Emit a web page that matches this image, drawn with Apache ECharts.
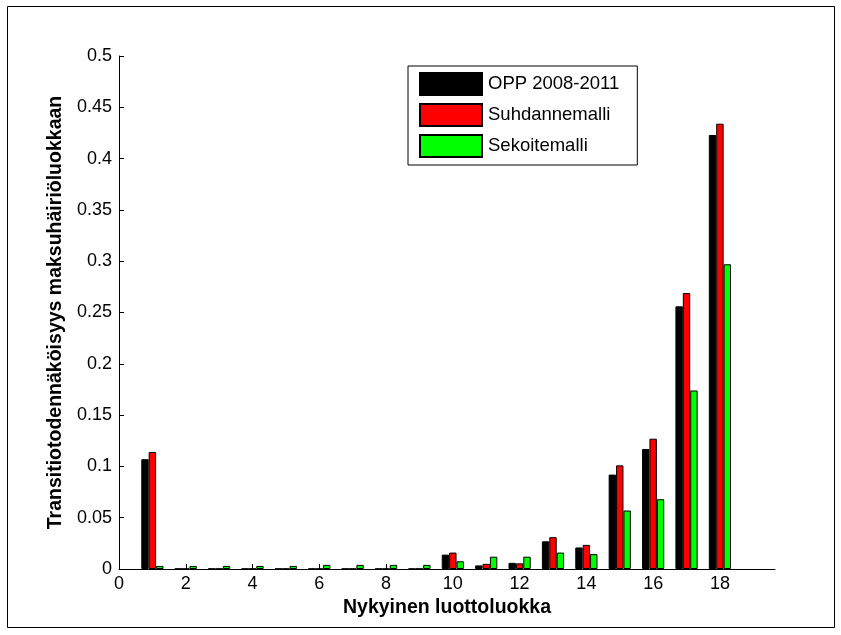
<!DOCTYPE html>
<html>
<head>
<meta charset="utf-8">
<script src="https://cdn.jsdelivr.net/npm/echarts@6/dist/echarts.min.js"></script>
<style>
  html, body { margin: 0; padding: 0; background: #fff; }
  #chart { width: 841px; height: 635px; }
</style>
</head>
<body>
<div id="chart"></div>
<script>
// Credit class (x position of each bar group)
const classes = [1, 2, 3, 4, 5, 6, 7, 8, 9, 10, 11, 12, 13, 14, 15, 16, 17, 18];

// Transition probability to the default class, per model
const opp = [0.107, 0.0003, 0.0003, 0.0003, 0.0003, 0.0003, 0.0003, 0.0003, 0.0003,
             0.014, 0.0035, 0.006, 0.027, 0.021, 0.092, 0.117, 0.256, 0.423];
const suhdanne = [0.114, 0.0003, 0.0003, 0.0003, 0.0003, 0.0003, 0.0003, 0.0003, 0.0003,
                  0.016, 0.005, 0.0055, 0.031, 0.0235, 0.101, 0.127, 0.269, 0.434];
const sekoite = [0.003, 0.003, 0.003, 0.003, 0.003, 0.004, 0.004, 0.004, 0.004,
                 0.0075, 0.012, 0.012, 0.016, 0.0145, 0.057, 0.068, 0.174, 0.297];

const seriesNames = ['OPP 2008-2011', 'Suhdannemalli', 'Sekoitemalli'];
const seriesColors = ['#000000', '#ff0000', '#00ff00'];
const xTicks = [0, 2, 4, 6, 8, 10, 12, 14, 16, 18];

const FONT = '"Liberation Sans", Arial, sans-serif';

function pairs(vals) {
  return classes.map((c, i) => [c, vals[i]]);
}

const chart = echarts.init(document.getElementById('chart'), null, { renderer: 'canvas' });

const barSeries = [opp, suhdanne, sekoite].map((vals, k) => ({
  name: seriesNames[k],
  type: 'bar',
  data: pairs(vals),
  barWidth: 7.4,
  barGap: '0%',
  itemStyle: { color: seriesColors[k], borderColor: '#000', borderWidth: 1 },
  emphasis: { disabled: true },
  animation: false
}));

chart.setOption({
  animation: false,
  backgroundColor: '#fff',
  textStyle: { fontFamily: FONT },
  grid: { left: 119, right: 66, top: 56, bottom: 66, containLabel: false },
  graphic: [{
    type: 'rect',
    shape: { x: 7.5, y: 6.5, width: 827, height: 621 },
    style: { fill: 'none', stroke: '#000', lineWidth: 1 },
    silent: true,
    z: 100
  }],
  legend: {
    orient: 'vertical',
    left: 408,
    top: 66,
    padding: [6, 18, 7, 11],
    icon: 'rect',
    itemWidth: 62,
    itemHeight: 22,
    itemGap: 7,
    borderColor: '#000',
    borderWidth: 1,
    backgroundColor: '#fff',
    selectedMode: false,
    data: seriesNames,
    textStyle: { fontFamily: FONT, fontSize: 18.5, lineHeight: 22, color: '#000', padding: [0, 0, 0, 1] }
  },
  xAxis: {
    type: 'value',
    min: 0,
    max: 19.65,
    name: 'Nykyinen luottoluokka',
    nameLocation: 'middle',
    nameGap: 26,
    nameTextStyle: { fontFamily: FONT, fontSize: 19.5, fontWeight: 'bold', color: '#000' },
    axisLine: { show: true, lineStyle: { color: '#000', width: 1 } },
    axisTick: { show: true, inside: true, length: 5, customValues: xTicks, lineStyle: { color: '#000' } },
    axisLabel: { customValues: xTicks, fontFamily: FONT, fontSize: 18, color: '#000', margin: 6 },
    splitLine: { show: false }
  },
  yAxis: {
    type: 'value',
    min: 0,
    max: 0.5,
    interval: 0.05,
    name: 'Transitiotodennäköisyys maksuhäiriöluokkaan',
    nameLocation: 'middle',
    nameGap: 52,
    nameTextStyle: { fontFamily: FONT, fontSize: 19.5, fontWeight: 'bold', color: '#000' },
    axisLine: { show: true, lineStyle: { color: '#000', width: 1 } },
    axisTick: { show: true, inside: true, length: 5, lineStyle: { color: '#000' } },
    axisLabel: { fontFamily: FONT, fontSize: 18, color: '#000', margin: 7 },
    splitLine: { show: false }
  },
  series: barSeries
});
</script>
</body>
</html>
